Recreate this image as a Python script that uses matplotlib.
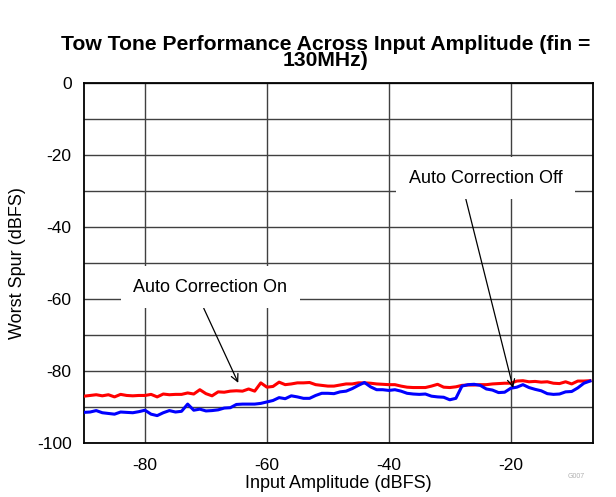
import numpy as np
import matplotlib
matplotlib.use('Agg')
import matplotlib.pyplot as plt

plt.rcParams['font.family'] = ['Liberation Sans', 'DejaVu Sans']
plt.rcParams['axes.unicode_minus'] = False

# input amplitude (dBFS)
amp = np.arange(-90, -6, 1)

# worst spur, red trace
spur_on = [-87.0, -86.8, -86.6, -86.9, -86.6, -87.2, -86.5, -86.8, -86.9, -86.8,
           -86.8, -86.5, -87.2, -86.4, -86.6, -86.5, -86.5, -86.1, -86.4, -85.2,
           -86.3, -86.9, -85.8, -85.9, -85.6, -85.5, -85.6, -85.0, -85.6, -83.3,
           -84.5, -84.3, -83.1, -83.8, -83.6, -83.3, -83.3, -83.2, -83.8, -84.0,
           -84.2, -84.2, -83.9, -83.6, -83.6, -83.3, -83.3, -83.4, -83.6, -83.7,
           -83.8, -83.8, -84.2, -84.5, -84.6, -84.6, -84.6, -84.2, -83.7, -84.5,
           -84.6, -84.4, -84.0, -83.9, -83.9, -83.8, -83.8, -83.6, -83.5, -83.4,
           -83.4, -82.8, -82.7, -83.0, -82.9, -83.1, -83.0, -83.4, -83.5, -83.0,
           -83.6, -82.8, -82.8, -82.7]

# worst spur, blue trace
spur_off = [-91.5, -91.4, -91.0, -91.6, -91.8, -92.0, -91.4, -91.5, -91.6, -91.3,
            -90.9, -92.0, -92.4, -91.6, -91.0, -91.4, -91.2, -89.2, -90.9, -90.6,
            -91.1, -91.0, -90.8, -90.3, -90.2, -89.3, -89.2, -89.2, -89.2, -89.0,
            -88.6, -88.2, -87.4, -87.7, -86.9, -87.2, -87.6, -87.6, -86.8, -86.2,
            -86.2, -86.3, -85.8, -85.6, -84.9, -84.0, -83.2, -84.4, -85.2, -85.2,
            -85.4, -85.2, -85.6, -86.2, -86.4, -86.5, -86.4, -87.0, -87.2, -87.3,
            -88.0, -87.6, -84.2, -83.8, -83.7, -84.0, -85.0, -85.3, -86.0, -85.9,
            -84.8, -84.5, -83.8, -84.6, -85.1, -85.5, -86.3, -86.5, -86.4, -85.8,
            -85.7, -84.7, -83.4, -82.8]

fig = plt.figure(figsize=(6.16, 4.97), dpi=100)
ax = fig.add_axes([0.1364, 0.1087, 0.8263, 0.7243])

ax.plot(amp, spur_on, color='#ff0000', lw=2.2, zorder=3)
ax.plot(amp, spur_off, color='#0000ff', lw=2.2, zorder=3)

ax.set_xlim(-90, -6.5)
ax.set_ylim(-100, 0)
ax.set_xticks([-80, -60, -40, -20])
ax.set_yticks(np.arange(-100, 1, 20))
ax.set_yticks(np.arange(-90, 0, 20), minor=True)
ax.grid(True, which='both', color='#404040', lw=1.0, zorder=1)
ax.set_axisbelow(True)
ax.tick_params(which='both', length=0, labelsize=12.5, pad=9)
ax.tick_params(axis='x', pad=11)
for s in ax.spines.values():
    s.set_linewidth(1.3)
    s.set_color('black')

ax.set_xlabel('Input Amplitude (dBFS)', fontsize=13, labelpad=1)
ax.set_ylabel('Worst Spur (dBFS)', fontsize=13, labelpad=8)

fig.text(0.528, 0.895, 'Tow Tone Performance Across Input Amplitude (fin =\n130MHz)',
         ha='center', va='center', multialignment='center',
         fontsize=15.2, fontweight='bold', linespacing=0.8)

box = dict(boxstyle='square,pad=0.7', fc='white', ec='none')
ax.annotate('Auto Correction On', xy=(-64.7, -83.3), xytext=(-69.3, -56.7),
            ha='center', va='center', fontsize=13, bbox=box, zorder=4,
            arrowprops=dict(arrowstyle='->', color='black', lw=0.9,
                            shrinkA=0, shrinkB=0, relpos=(0.42, 0)))
ax.annotate('Auto Correction Off', xy=(-19.6, -84.7), xytext=(-24.1, -26.4),
            ha='center', va='center', fontsize=13, bbox=box, zorder=4,
            arrowprops=dict(arrowstyle='->', color='black', lw=0.9,
                            shrinkA=0, shrinkB=0, relpos=(0.35, 0)))

fig.text(0.935, 0.038, 'G007', fontsize=5, color='#b0b0b0', ha='center')

plt.savefig('out.png', dpi=100)
